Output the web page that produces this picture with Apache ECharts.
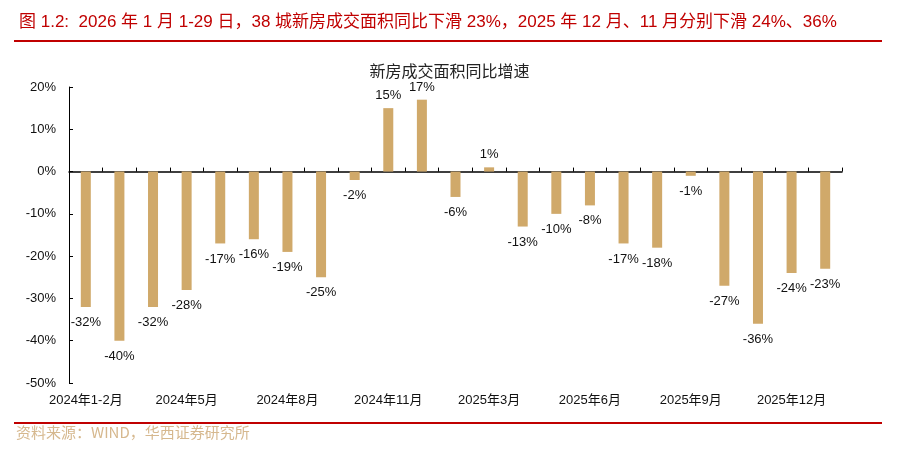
<!DOCTYPE html>
<html><head><meta charset="utf-8">
<script src="https://cdn.jsdelivr.net/npm/echarts@6/dist/echarts.min.js"></script>
<style>html,body{margin:0;padding:0;background:#fff}#c{width:899px;height:451px}</style>
</head><body><div id="c"></div>
<script>
const categories = ['2024年1-2月','2024年3月','2024年4月','2024年5月','2024年6月','2024年7月','2024年8月','2024年9月','2024年10月','2024年11月','2024年12月','2025年1-2月','2025年3月','2025年4月','2025年5月','2025年6月','2025年7月','2025年8月','2025年9月','2025年10月','2025年11月','2025年12月','2026年1月'];
const growth = [-32,-40,-32,-28,-17,-16,-19,-25,-2,15,17,-6,1,-13,-10,-8,-17,-18,-1,-27,-36,-24,-23];
const headerText = '图 1.2:  2026 年 1 月 1-29 日，38 城新房成交面积同比下滑 23%，2025 年 12 月、11 月分别下滑 24%、36%';
const chartTitle = '新房成交面积同比增速';
const sourceText = '资料来源：WIND，华西证券研究所';

const FONT = '"Liberation Sans", Arial, "Noto Sans CJK SC", sans-serif';
const chart = echarts.init(document.getElementById('c'), null, {renderer:'canvas'});
chart.setOption({
  animation:false,
  title:[
    {text:headerText,left:14,top:9,textStyle:{color:'#C00000',fontSize:17,fontWeight:'normal',fontFamily:FONT}},
    {text:chartTitle,left:'center',top:58,textStyle:{color:'#222',fontSize:16,fontWeight:'normal',fontFamily:'"Noto Sans CJK SC", sans-serif'}}
  ],
  graphic:[
    {type:'rect',shape:{x:14,y:40,width:868,height:2},style:{fill:'#C00000'},silent:true},
    {type:'rect',shape:{x:14,y:422,width:868,height:2},style:{fill:'#C00000'},silent:true},
    {type:'text',left:16,top:425,style:{text:sourceText,fill:'#D6B88E',fontSize:15,fontFamily:'"Noto Sans CJK SC", sans-serif'}}
  ],
  grid:{left:69,right:57,top:87,bottom:68},
  xAxis:[
    {type:'category',data:categories,position:'bottom',
     axisLine:{show:false,onZero:false},axisTick:{show:false},
     axisLabel:{interval:2,margin:11,color:'#111',fontSize:13,fontFamily:FONT}},
    {type:'category',data:categories,position:'bottom',
     axisLine:{show:true,onZero:true,lineStyle:{color:'#000',width:1.5}},
     axisTick:{show:true,inside:true,interval:0,length:4,lineStyle:{color:'#000'}},
     axisLabel:{show:false}}
  ],
  yAxis:{type:'value',min:-50,max:20,interval:10,
    axisLine:{show:true,lineStyle:{color:'#000'}},
    axisTick:{show:true,inside:true,length:4,lineStyle:{color:'#000'}},
    splitLine:{show:false},
    axisLabel:{formatter:'{value}%',color:'#111',fontSize:13,margin:13,fontFamily:FONT}},
  series:[{type:'bar',xAxisIndex:0,barWidth:10,
    itemStyle:{color:'#D0A96A'},
    data:growth.map(v=>({value:v,label:{position:v>=0?'top':'bottom',distance:v>=0?6:9}})),
    label:{show:true,formatter:p=>p.value+'%',color:'#111',fontSize:13,fontFamily:FONT}
  }]
});
</script></body></html>
